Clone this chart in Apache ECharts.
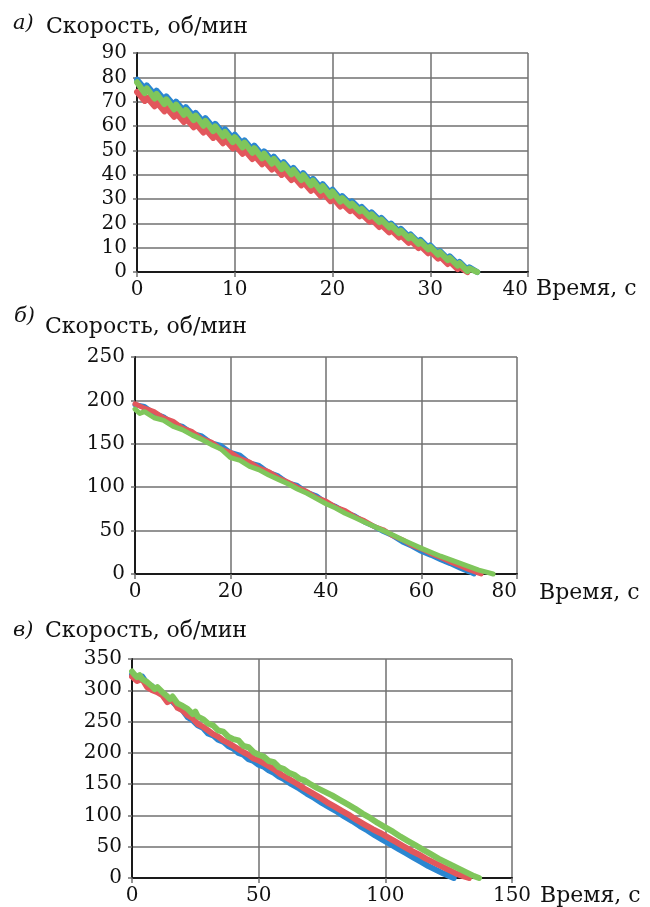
<!DOCTYPE html>
<html>
<head>
<meta charset="utf-8">
<script src="https://cdn.jsdelivr.net/npm/echarts@6/dist/echarts.min.js"></script>
<style>
html,body{margin:0;padding:0;background:#fff;}
#chart{width:650px;height:907px;}
</style>
</head>
<body>
<div id="chart"></div>
<script>
// ---- Chart а) ----
var timeA = [0,0.8,1,1.8,2,2.8,3,3.8,4,4.8,5,5.8,6,6.8,7,7.8,8,8.8,9,9.8,10,10.8,11,11.8,12,12.8,13,13.8,14,14.8,15,15.8,16,16.8,17,17.8,18,18.8,19,19.8,20,20.8,21,21.8,22,22.8,23,23.8,24,24.8,25,25.8,26,26.8,27,27.8,28,28.8,29,29.8,30,30.8,31,31.8,32,32.8,33,33.8,34,34.8];
var blueA = [79,75.2,76.7,72.9,74.5,70.7,72.2,68.4,70,66.2,67.7,63.9,65.4,61.6,63.2,59.4,60.9,57.1,58.7,54.9,56.4,52.6,54.1,50.3,51.9,48.1,49.6,45.8,47.4,43.6,45.1,41.3,42.8,39,40.6,36.8,38.3,34.5,36.1,32.3,33.8,30,31.2,28,29,25.8,26.7,23.5,24.5,21.3,22.2,19,19.9,16.7,17.7,14.5,15.4,12.2,13.2,10,10.9,7.7,8.6,5.4,6.4,3.2,4.1,1,1.9,0];
var redA = [74,70.3,71.8,68.1,69.7,66,67.5,63.8,65.3,61.6,63.2,59.5,61,57.3,58.8,55.1,56.6,52.9,54.5,50.8,52.3,48.6,50.1,46.4,48,44.3,45.8,42.1,43.6,39.9,41.5,37.8,39.3,35.6,37.1,33.4,34.9,31.2,32.8,29.1,30.6,26.9,28.1,25,26,22.9,23.8,20.7,21.6,18.5,19.4,16.3,17.3,14.2,15.1,12,12.9,9.8,10.8,7.7,8.6,5.5,6.4,3.3,4.3,1.2,2.1,0];
var greenA = [78,73.5,75.5,71.3,73.2,69,71,66.8,68.8,64.6,66.6,62.4,64.3,60.1,62.1,57.9,59.9,55.7,57.6,53.4,55.4,51.2,53.2,49,50.9,46.7,48.7,44.5,46.5,42.3,44.3,40.1,42,37.8,39.8,35.6,37.6,33.4,35.3,31.1,33.1,28.9,30.4,27.2,28.1,24.9,25.9,22.7,23.7,20.5,21.5,18.3,19.2,16,17,13.8,14.8,11.6,12.5,9.3,10.3,7.1,8.1,4.9,5.8,2.6,3.6,0.4,1.4,0];

// ---- Chart б) ---- [time, speed]
var blueB = [[0,195],[2,193],[4,185],[6,181],[8,173],[10,170],[12,162],[14,159],[16,151],[18,148],[20,140],[22,137],[24,128],[26,125],[28,117],[30,113],[32,105],[34,102],[36,94],[38,90],[40,82],[42,78],[44,71],[46,67],[48,60],[50,55],[52,49],[54,44],[56,37],[58,32],[60,26],[62,21.5],[64,16.5],[66,12],[68,7],[70,2.5],[71,0]];
var redB = [[0,196],[2,191],[4,187],[6,180],[8,176],[10,168],[12,164],[14,156],[16,152],[18,144],[20,140],[22,133],[24,129],[26,122],[28,118],[30,111],[32,106],[34,100],[36,95],[38,88],[40,84],[42,77],[44,73],[46,66],[48,61.5],[50,55],[52,51],[54,44],[56,39.5],[58,33],[60,29],[62,23.5],[64,19],[66,14],[68,9.5],[70,5],[72,1],[72.5,0]];
var greenB = [[0,190],[1,185],[2,187],[4,180],[6,177],[8,170],[10,166],[12,160],[14,155],[16,149],[18,144],[20,134],[22,131],[24,124],[26,120],[28,114],[30,109],[32,104],[34,98],[36,93],[38,87],[40,81],[42,76],[44,70],[46,65],[48,60],[50,55],[52,50],[54,45],[56,39.5],[58,34.5],[60,29.5],[62,25],[64,20.5],[66,16.5],[68,12.5],[70,8.5],[72,4.5],[74,1.5],[75,0]];

// ---- Chart в) ---- [time, speed]
var blueC = [[0,325],[2,318],[4,322],[6,310],[8,306],[10,298],[12,294],[14,285],[16,282],[18,274],[20,268],[22,257],[24,252],[26,244],[28,240],[30,231],[32,228],[34,221],[36,218],[38,211],[40,207],[42,200],[44,197],[46,190],[48,187],[50,181],[52,178],[54,172],[56,168],[58,162],[60,158],[63,150],[66,143],[69,135],[72,128],[75,120],[78,113],[81,106],[84,98],[87,91],[90,83],[93,76],[96,68],[99,61],[102,54],[105,47],[108,40],[111,33],[114,26],[117,19],[120,13],[123,7],[127,0]];
var redC = [[0,322],[2,315],[4,318],[6,305],[8,300],[10,297],[12,292],[14,281],[16,285],[18,272],[20,268],[22,260],[24,255],[26,246],[28,242],[30,236],[32,230],[34,226],[36,220],[38,216],[40,211],[42,206],[44,201],[46,197],[48,191],[50,188],[53,181],[56,174],[59,165],[62,158],[65,151],[68,143],[71,136],[74,129],[77,121],[80,114],[83,107],[86,100],[89,92],[92,85],[95,78],[98,72],[101,65],[104,58],[107,51],[110,44],[113,38],[116,31],[119,25],[122,19],[125,13],[128,7],[131,2.5],[133,0]];
var greenC = [[0,330],[1,325],[2,321],[3,324],[4,318],[6,313],[8,306],[9,302],[10,305],[12,297],[14,290],[15,286],[16,290],[18,279],[20,275],[22,270],[24,262],[25,266],[26,258],[28,254],[30,247],[32,244],[34,236],[36,234],[38,226],[40,222],[42,220],[44,211],[46,209],[48,201],[50,197],[52,194],[54,187],[56,185],[58,177],[60,174],[62,168],[64,165],[66,159],[68,156],[70,151],[73,144],[76,138],[79,132],[82,125],[85,118],[88,111],[91,103],[94,96],[97,88],[100,81],[103,74],[106,66],[109,59],[112,52],[115,45],[118,38],[121,31],[124,25],[127,19],[130,13],[133,7],[135,3],[137,0]];

var panelLetters = ['а)', 'б)', 'в)'];
var yTitle = 'Скорость, об/мин';
var xTitle = 'Время, с';

var COLORS = {blue:'#2b86d1', red:'#e2575c', green:'#7fc65b'};
var FONT = 'DejaVu Serif';

function zipA(vals){ return vals.map(function(v,i){ return [timeA[i], v]; }); }

var grids = [
  {left:137, right:122, top:53, height:219},
  {left:135, right:133, top:357, height:217},
  {left:132, right:138, top:659, height:219}
];
var xCfg = [{max:40, interval:10, alignMax:'right'},{max:80, interval:20, alignMax:'right'},{max:150, interval:50, alignMax:'center'}];
var yCfg = [{max:90, interval:10},{max:250, interval:50},{max:350, interval:50}];

function xAxis(i){
  return {
    type:'value', gridIndex:i, min:0, max:xCfg[i].max, interval:xCfg[i].interval,
    axisLine:{show:true, onZero:false, lineStyle:{color:'#1a1a1a', width:2}},
    axisTick:{show:true, inside:false, length:5, lineStyle:{color:'#707070', width:1.5}},
    splitLine:{show:true, lineStyle:{color:'#707070', width:1.5}},
    axisLabel:{color:'#111', fontFamily:FONT, fontSize:20, margin:8, alignMaxLabel:xCfg[i].alignMax}
  };
}
function yAxis(i){
  return {
    type:'value', gridIndex:i, min:0, max:yCfg[i].max, interval:yCfg[i].interval,
    axisLine:{show:true, onZero:false, lineStyle:{color:'#1a1a1a', width:2}},
    axisTick:{show:true, inside:false, length:4, lineStyle:{color:'#707070', width:1.5}},
    splitLine:{show:true, lineStyle:{color:'#707070', width:1.5}},
    axisLabel:{color:'#111', fontFamily:FONT, fontSize:20, margin:10}
  };
}
function line(i, data, color, w){
  return {
    type:'line', xAxisIndex:i, yAxisIndex:i, data:data, showSymbol:false, clip:false,
    lineStyle:{color:color, width:w, cap:'round', join:'round'}, itemStyle:{color:color}
  };
}

var textPos = [
  {lx:13, ly:13, tx:46, ty:16, nx:536, ny:278},
  {lx:14, ly:306, tx:45, ty:316, nx:539, ny:582},
  {lx:13, ly:620, tx:45, ty:620, nx:540, ny:885}
];
var graphics = [];
textPos.forEach(function(p, i){
  graphics.push({type:'text', left:p.lx, top:p.ly, style:{text:panelLetters[i], font:'italic 21px "' + FONT + '"', fill:'#111'}});
  graphics.push({type:'text', left:p.tx, top:p.ty, style:{text:yTitle, font:'22px "' + FONT + '"', fill:'#111'}});
  graphics.push({type:'text', left:p.nx, top:p.ny, style:{text:xTitle, font:'22px "' + FONT + '"', fill:'#111'}});
});

var chart = echarts.init(document.getElementById('chart'), null, {renderer:'canvas'});
chart.setOption({
  animation:false,
  backgroundColor:'#fff',
  grid:grids,
  xAxis:[xAxis(0), xAxis(1), xAxis(2)],
  yAxis:[yAxis(0), yAxis(1), yAxis(2)],
  graphic:graphics,
  series:[
    line(0, zipA(blueA), COLORS.blue, 6),
    line(0, zipA(redA), COLORS.red, 6),
    line(0, zipA(greenA), COLORS.green, 6),
    line(1, blueB, COLORS.blue, 5),
    line(1, redB, COLORS.red, 5),
    line(1, greenB, COLORS.green, 5),
    line(2, blueC, COLORS.blue, 6),
    line(2, redC, COLORS.red, 6),
    line(2, greenC, COLORS.green, 6)
  ]
});
</script>
</body>
</html>
